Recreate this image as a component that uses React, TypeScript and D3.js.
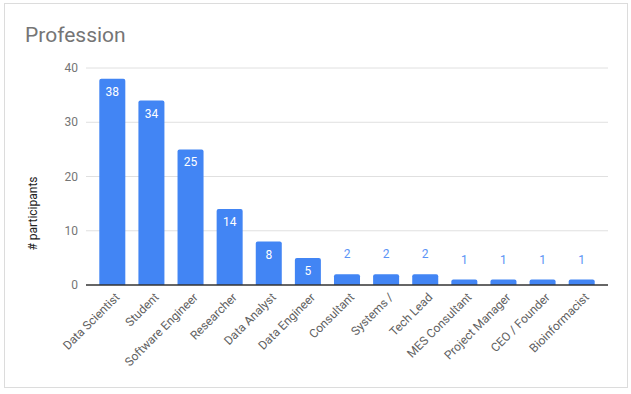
import React from 'react';
import * as d3 from 'd3';

// data
const professions = [
  'Data Scientist', 'Student', 'Software Engineer', 'Researcher', 'Data Analyst',
  'Data Engineer', 'Consultant', 'Systems /', 'Tech Lead', 'MES Consultant',
  'Project Manager', 'CEO / Founder', 'Bioinformacist',
];
const participants = [38, 34, 25, 14, 8, 5, 2, 2, 2, 1, 1, 1, 1];
const yTicks = [0, 10, 20, 30, 40];

const W = 631, H = 394;
const left = 86, right = 608, top = 68, bottom = 285;

export default function App() {
  const x = d3.scaleBand<string>()
    .domain(professions)
    .range([left, right])
    .paddingInner(0.335)
    .paddingOuter(0.34);
  const y = d3.scaleLinear().domain([0, 40]).range([bottom, top]);
  const font = 'Roboto, Arial, sans-serif';

  return (
    <svg width={W} height={H} style={{position: 'absolute', left: 0, top: 0}} fontFamily={font}>
      <rect x={0} y={0} width={W} height={H} fill="#fff" />
      <rect x={4.5} y={3.5} width={623} height={384} fill="#fff" stroke="#dcdcdc" />
      <text x={25} y={42} fontSize={21} fill="#757575">Profession</text>

      {yTicks.map(t => (
        <g key={t}>
          {t > 0 && <line x1={left} x2={right} y1={y(t)} y2={y(t)} stroke="#e0e0e0" strokeWidth={1} />}
          <text x={78} y={y(t)} dy="0.35em" textAnchor="end" fontSize={12} fill="#757575">{t}</text>
        </g>
      ))}

      <text transform={`translate(37, ${(top + bottom) / 2 + 37}) rotate(-90)`} textAnchor="middle"
        fontSize={12} fill="#222">
        # participants
      </text>

      {professions.map((p, i) => {
        const v = participants[i];
        const bx = x(p)!;
        const cx = bx + x.bandwidth() / 2;
        const by = y(v);
        const inside = bottom - by > 20;
        return (
          <g key={p}>
            <path
              d={`M${bx},${bottom} V${by + 2} Q${bx},${by} ${bx + 2},${by} H${bx + x.bandwidth() - 2} Q${bx + x.bandwidth()},${by} ${bx + x.bandwidth()},${by + 2} V${bottom} Z`}
              fill="#4285f4" />
            <text x={cx} y={inside ? by + 17 : by - 16} textAnchor="middle" fontSize={12}
              fill={inside ? '#fff' : '#5b93f5'}>{v}</text>
            <text transform={`translate(${cx + 8}, 298) rotate(-45)`} textAnchor="end" fontSize={12}
              fill="#616161">{p}</text>
          </g>
        );
      })}

      <line x1={left} x2={right} y1={bottom} y2={bottom} stroke="#333" strokeWidth={1.5} />
    </svg>
  );
}
